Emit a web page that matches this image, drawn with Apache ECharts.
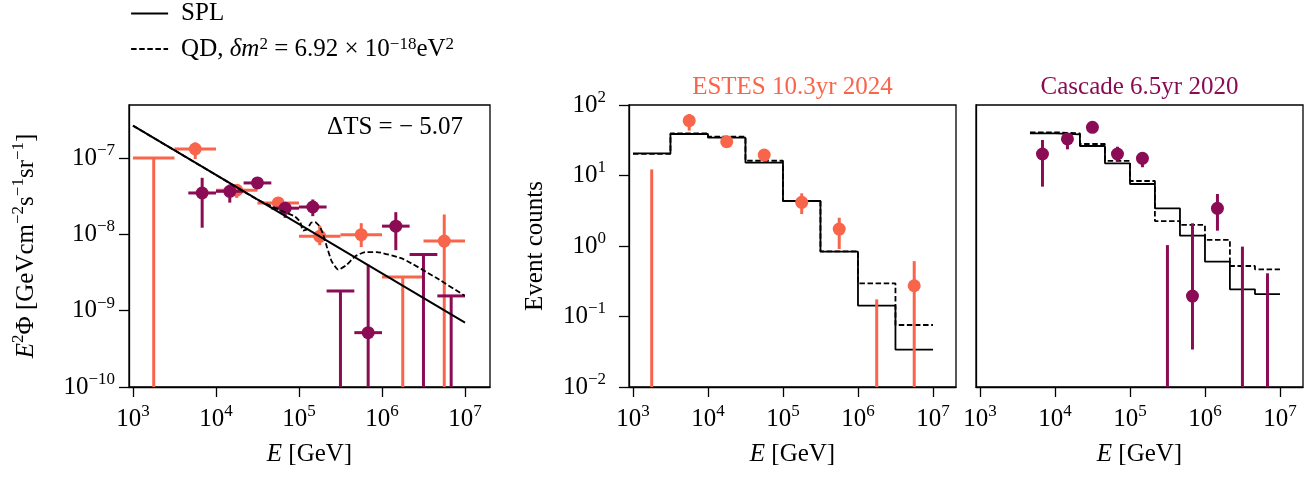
<!DOCTYPE html>
<html>
<head>
<meta charset="utf-8">
<title>SPL vs QD fluxes</title>
<script src="https://cdn.jsdelivr.net/npm/echarts@6/dist/echarts.min.js"></script>
<style>
html, body { margin: 0; padding: 0; background: #fff; }
#main { width: 1316px; height: 478px; }
</style>
</head>
<body>
<div id="main"></div>
<script>
// energy bin edges [GeV]
var estesEdges   = [1e3, 3.16e3, 1e4, 3.16e4, 1e5, 3.16e5, 1e6, 3.16e6, 1e7];
var cascadeEdges = [4.64e3, 1e4, 2.15e4, 4.64e4, 1e5, 2.15e5, 4.64e5, 1e6, 2.15e6, 4.64e6, 1e7];

// unfolded flux E^2 Phi (0 = only an upper limit, lower 0 = down to the axis)
var estesFlux     = [0,      1.31e-7, 3.78e-8, 2.58e-8, 9.4e-9, 9.9e-9,  0,       8.15e-9];
var estesFluxUp   = [1.0e-7, 1.6e-7,  4.48e-8, 2.86e-8, 1.3e-8, 1.4e-8,  2.75e-9, 1.82e-8];
var estesFluxLo   = [0,      9.7e-8,  3.0e-8,  2.28e-8, 7.2e-9, 6.8e-9,  0,       0];
var cascadeFlux   = [3.48e-8, 3.66e-8, 4.71e-8, 2.2e-8,  2.28e-8, 0,       5.15e-10, 1.28e-8, 0,       0];
var cascadeFluxUp = [5.5e-8,  4.5e-8,  5.5e-8,  2.6e-8,  2.86e-8, 1.81e-9, 4.0e-9,   1.95e-8, 5.44e-9, 1.56e-9];
var cascadeFluxLo = [1.22e-8, 2.6e-8,  4.05e-8, 1.64e-8, 1.73e-8, 0,       0,        6.2e-9,  0,       0];

// model curves in the flux panel
var splEnergy = [1e3, 1e7];
var splFlux   = [2.65e-7, 6.97e-10];
var qdEnergy = [1e3, 1e4, 3.16e4, 6.47e4, 8.95e4, 1.03e5, 1.12e5, 1.25e5, 1.40e5, 1.56e5, 1.79e5,
                1.96e5, 2.16e5, 2.48e5, 2.97e5, 3.76e5, 4.73e5, 6.24e5, 8.63e5, 1.81e6, 4.56e6, 9.9e6];
var qdFlux   = [2.65e-7, 6.0e-8, 2.85e-8, 1.99e-8, 1.71e-8, 1.46e-8, 1.12e-8, 1.16e-8, 1.42e-8, 1.45e-8, 1.26e-8,
                9.84e-9, 6.93e-9, 4.41e-9, 3.44e-9, 3.99e-9, 5.13e-9, 5.85e-9, 5.85e-9, 4.73e-9, 2.67e-9, 1.57e-9];

// event counts
var estesSPL      = [20.6, 38.8, 34.4, 15.2, 4.35, 0.83, 0.143, 0.034];
var estesQD       = [20.2, 39.5, 35.5, 16.2, 4.35, 0.84, 0.295, 0.0757];
var estesCounts   = [0,    60,   30.2, 19.5, 4.16, 1.74, 0,     0.273];
var estesCountsUp = [12.2, 74.5, 36.3, 22,   5.58, 2.52, 0.175, 0.61];
var estesCountsLo = [0,    43.3, 25.1, 17,   2.84, 0.906, 0,    0];
var cascadeSPL      = [39.6, 38.4, 26.2, 14.9, 7.57, 3.42, 1.40, 0.600, 0.243, 0.208];
var cascadeQD       = [41,   39.6, 28,   16.1, 8.36, 2.26, 1.99, 1.22,  0.52,  0.467];
var cascadeCounts   = [20.2, 33,   48.2, 20.2, 17.5, 0,    0.195, 3.42, 0,     0];
var cascadeCountsUp = [31.9, 39.6, 52,   25.6, 21.1, 1.03, 2.1,  5.47,  0.98,  0.41];
var cascadeCountsLo = [6.95, 23.5, 44,   16.2, 13.1, 0,    0.034, 1.65, 0,     0];

var xTicks = [3, 4, 5, 6, 7];
var fluxTicks = [-10, -9, -8, -7];
var countTicks = [-2, -1, 0, 1, 2];

var orange = '#f8654a', purple = '#8b0c55';
var FONT = 'Liberation Serif';
var lg = Math.log10;

var RICH = {
    b: { fontFamily: FONT, fontSize: 25, lineHeight: 32, color: '#000' },
    r: { fontFamily: FONT, fontSize: 25, lineHeight: 32, color: '#000' },
    i: { fontFamily: FONT, fontSize: 25, lineHeight: 32, fontStyle: 'italic', color: '#000' },
    s: { fontFamily: FONT, fontSize: 17, lineHeight: 17, verticalAlign: 'top', color: '#000' }
};

function pow10(v) {
    var e = Math.round(v);
    return '{b|10}{s|' + (e < 0 ? '\u2212' + (-e) : e) + '}';
}
function centre(edges, i) { return (lg(edges[i]) + lg(edges[i + 1])) / 2; }
function curve(xs, ys) {
    var out = [];
    for (var i = 0; i < xs.length; i++) out.push([lg(xs[i]), lg(ys[i])]);
    return out;
}
function steps(edges, vals) {
    var out = [];
    for (var i = 0; i < vals.length; i++) out.push([lg(edges[i]), lg(vals[i])]);
    out.push([lg(edges[edges.length - 1]), lg(vals[vals.length - 1])]);
    return out;
}
function errData(edges, val, up, lo) {
    var out = [];
    for (var i = 0; i < val.length; i++) {
        var y = val[i] > 0 ? lg(val[i]) : lg(up[i]);
        out.push([lg(edges[i]), lg(edges[i + 1]), centre(edges, i), y, lo[i] > 0 ? lg(lo[i]) : -99, lg(up[i])]);
    }
    return out;
}
function markerData(edges, val) {
    var out = [];
    for (var i = 0; i < val.length; i++) if (val[i] > 0) out.push([centre(edges, i), lg(val[i])]);
    return out;
}
function errRender(color, bars) {
    return function (params, api) {
        var cs = params.coordSys;
        var bottom = cs.y + cs.height;
        var c = api.coord([api.value(2), api.value(3)]);
        var hi = api.coord([api.value(2), api.value(5)]);
        var lo = api.value(4) < -50 ? bottom : Math.min(api.coord([api.value(2), api.value(4)])[1], bottom);
        var kids = [{ type: 'line', shape: { x1: c[0], y1: hi[1], x2: c[0], y2: lo },
                      style: { stroke: color, lineWidth: 3 } }];
        if (bars) {
            var a = api.coord([api.value(0), api.value(3)]);
            var b = api.coord([api.value(1), api.value(3)]);
            kids.push({ type: 'line', shape: { x1: a[0], y1: a[1], x2: b[0], y2: b[1] },
                        style: { stroke: color, lineWidth: 3 } });
        }
        return { type: 'group', children: kids };
    };
}

var axisLine = { show: true, onZero: false, lineStyle: { color: '#000', width: 1.3 } };
var tick = { show: true, length: 10, lineStyle: { color: '#000', width: 1.3 } };

function xAxisCfg(idx, min, max) {
    return {
        type: 'value', gridIndex: idx, min: min, max: max,
        axisLine: axisLine, splitLine: { show: false },
        axisTick: Object.assign({ customValues: xTicks }, tick),
        axisLabel: { customValues: xTicks, formatter: pow10, margin: 16, rich: RICH },
        name: '{i|E}{r| [GeV]}', nameLocation: 'middle', nameGap: 51,
        nameTextStyle: { rich: RICH }
    };
}

var gridBase = { show: true, borderColor: '#000', borderWidth: 1.3, outerBoundsMode: 'none', containLabel: false };

var option = {
    animation: false,
    backgroundColor: '#fff',
    textStyle: { fontFamily: FONT },
    grid: [
        Object.assign({ left: 129, top: 105, width: 361, height: 282 }, gridBase),
        Object.assign({ left: 629, top: 105, width: 327, height: 282 }, gridBase),
        Object.assign({ left: 976, top: 105, width: 327, height: 282 }, gridBase)
    ],
    legend: {
        data: ['SPL', 'QD'],
        orient: 'vertical', left: 130, top: 1, padding: 0,
        itemWidth: 37, itemHeight: 14, itemGap: 10,
        selectedMode: false,
        itemStyle: { color: 'rgba(0,0,0,0)', borderWidth: 0 },
        lineStyle: { width: 2.2 },
        formatter: function (name) {
            if (name === 'SPL') return '{r|SPL}';
            return '{r|QD, }{i|\u03b4m}{s|2}{r| = 6.92 \u00d7 10}{s|\u221218}{r|eV}{s|2}';
        },
        textStyle: {
            padding: [0, 0, 0, 8],
            rich: {
                r: { fontFamily: FONT, fontSize: 25, lineHeight: 26, color: '#000' },
                i: { fontFamily: FONT, fontSize: 25, lineHeight: 26, fontStyle: 'italic', color: '#000' },
                s: { fontFamily: FONT, fontSize: 17, lineHeight: 14, verticalAlign: 'top', color: '#000' }
            }
        }
    },
    title: [
        { text: 'ESTES 10.3yr 2024', left: 792.5, top: 72, textAlign: 'center', padding: 0,
          textStyle: { fontFamily: FONT, fontSize: 25, fontWeight: 'normal', color: orange, lineHeight: 30 } },
        { text: 'Cascade 6.5yr 2020', left: 1139.5, top: 72, textAlign: 'center', padding: 0,
          textStyle: { fontFamily: FONT, fontSize: 25, fontWeight: 'normal', color: purple, lineHeight: 30 } },
        { text: '\u0394TS = \u2212 5.07', left: 463, top: 112, textAlign: 'right', padding: 0,
          textStyle: { fontFamily: FONT, fontSize: 25, fontWeight: 'normal', color: '#000', lineHeight: 30 } }
    ],
    xAxis: [
        xAxisCfg(0, 2.952, 7.301),
        xAxisCfg(1, 2.947, 7.307),
        xAxisCfg(2, 2.947, 7.307)
    ],
    yAxis: [
        {
            type: 'value', gridIndex: 0, min: -10, max: -6.306,
            axisLine: axisLine, splitLine: { show: false },
            axisTick: Object.assign({ customValues: fluxTicks }, tick),
            axisLabel: { customValues: fluxTicks, formatter: pow10, margin: 14, rich: RICH },
            name: '{i|E}{s|2}{r|\u03a6 [GeVcm}{s|\u22122}{r|s}{s|\u22121}{r|sr}{s|\u22121}{r|]}',
            nameLocation: 'middle', nameGap: 87, nameRotate: 90,
            nameTextStyle: { rich: RICH }
        },
        {
            type: 'value', gridIndex: 1, min: -2, max: 2,
            axisLine: axisLine, splitLine: { show: false },
            axisTick: Object.assign({ customValues: countTicks }, tick),
            axisLabel: { customValues: countTicks, formatter: pow10, margin: 23, rich: RICH },
            name: 'Event counts', nameLocation: 'middle', nameGap: 79, nameRotate: 90,
            nameTextStyle: { fontFamily: FONT, fontSize: 25, lineHeight: 30, color: '#000' }
        },
        {
            type: 'value', gridIndex: 2, min: -2, max: 2,
            axisLine: axisLine, splitLine: { show: false },
            axisTick: { show: false }, axisLabel: { show: false }
        }
    ],
    series: [
        // panel 1: flux
        { name: 'SPL', type: 'line', xAxisIndex: 0, yAxisIndex: 0, data: curve(splEnergy, splFlux),
          symbol: 'none', itemStyle: { color: '#000' }, lineStyle: { color: '#000', width: 2 }, z: 6 },
        { name: 'QD', type: 'line', xAxisIndex: 0, yAxisIndex: 0, data: curve(qdEnergy, qdFlux),
          symbol: 'none', smooth: 0.15, itemStyle: { color: '#000' },
          lineStyle: { color: '#000', width: 1.8, type: [5.5, 2.6] }, z: 6 },
        { type: 'custom', xAxisIndex: 0, yAxisIndex: 0, data: errData(estesEdges, estesFlux, estesFluxUp, estesFluxLo),
          renderItem: errRender(orange, true), z: 2 },
        { type: 'scatter', xAxisIndex: 0, yAxisIndex: 0, data: markerData(estesEdges, estesFlux),
          symbolSize: 13, itemStyle: { color: orange, opacity: 1 }, z: 3 },
        { type: 'custom', xAxisIndex: 0, yAxisIndex: 0, data: errData(cascadeEdges, cascadeFlux, cascadeFluxUp, cascadeFluxLo),
          renderItem: errRender(purple, true), z: 4 },
        { type: 'scatter', xAxisIndex: 0, yAxisIndex: 0, data: markerData(cascadeEdges, cascadeFlux),
          symbolSize: 13, itemStyle: { color: purple, opacity: 1 }, z: 5 },

        // panel 2: ESTES counts
        { name: 'SPL', type: 'line', xAxisIndex: 1, yAxisIndex: 1, data: steps(estesEdges, estesSPL), step: 'end',
          symbol: 'none', lineStyle: { color: '#000', width: 1.8 }, z: 2 },
        { name: 'QD', type: 'line', xAxisIndex: 1, yAxisIndex: 1, data: steps(estesEdges, estesQD), step: 'end',
          symbol: 'none', lineStyle: { color: '#000', width: 1.8, type: [5.5, 2.6] }, z: 2 },
        { type: 'custom', xAxisIndex: 1, yAxisIndex: 1, data: errData(estesEdges, estesCounts, estesCountsUp, estesCountsLo),
          renderItem: errRender(orange, false), z: 3 },
        { type: 'scatter', xAxisIndex: 1, yAxisIndex: 1, data: markerData(estesEdges, estesCounts),
          symbolSize: 13, itemStyle: { color: orange, opacity: 1 }, z: 4 },

        // panel 3: Cascade counts
        { name: 'SPL', type: 'line', xAxisIndex: 2, yAxisIndex: 2, data: steps(cascadeEdges, cascadeSPL), step: 'end',
          symbol: 'none', lineStyle: { color: '#000', width: 1.8 }, z: 2 },
        { name: 'QD', type: 'line', xAxisIndex: 2, yAxisIndex: 2, data: steps(cascadeEdges, cascadeQD), step: 'end',
          symbol: 'none', lineStyle: { color: '#000', width: 1.8, type: [5.5, 2.6] }, z: 2 },
        { type: 'custom', xAxisIndex: 2, yAxisIndex: 2, data: errData(cascadeEdges, cascadeCounts, cascadeCountsUp, cascadeCountsLo),
          renderItem: errRender(purple, false), z: 3 },
        { type: 'scatter', xAxisIndex: 2, yAxisIndex: 2, data: markerData(cascadeEdges, cascadeCounts),
          symbolSize: 13, itemStyle: { color: purple, opacity: 1 }, z: 4 }
    ]
};

var chart = echarts.init(document.getElementById('main'));
chart.setOption(option);
</script>
</body>
</html>
